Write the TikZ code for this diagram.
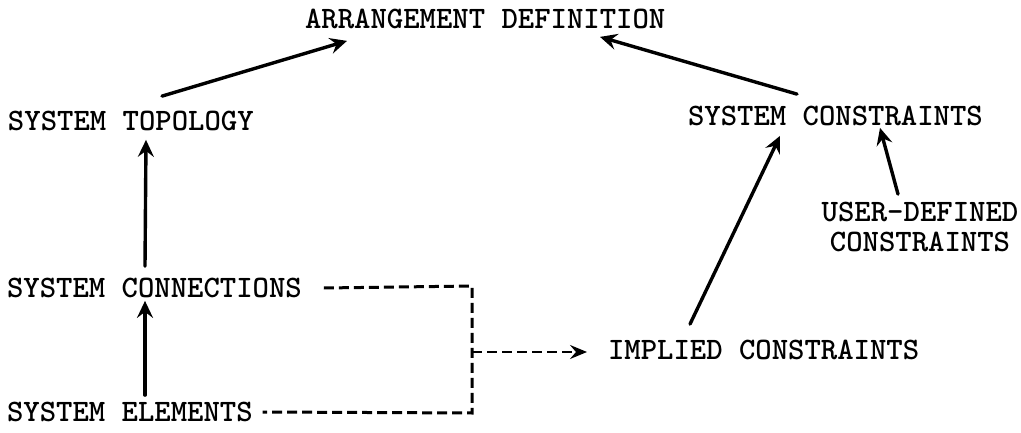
\documentclass[tikz,border=0pt]{standalone}
\usepackage{fontspec}
\usetikzlibrary{arrows.meta}
\begin{document}
\begin{tikzpicture}[x=1pt,y=1pt,
  lbl/.style={inner sep=0pt, outer sep=0pt, anchor=west, font=\ttfamily\bfseries\fontsize{31.2}{30}\selectfont},
  conn/.style={line width=3.4pt, line cap=round, -{Stealth[length=17pt,width=16pt,inset=6pt]}},
  dsh/.style={line width=3pt, dash pattern=on 10pt off 5pt}]
\useasboundingbox (0,0) rectangle (1021,-433);
\node[lbl] (arr) at (305,-19) {ARRANGEMENT DEFINITION};
\node[lbl] (topo) at (8,-121) {SYSTEM TOPOLOGY};
\node[lbl] (con) at (7,-288) {SYSTEM CONNECTIONS};
\node[lbl] (elem) at (7,-412) {SYSTEM ELEMENTS};
\node[lbl] (sc) at (688,-116) {SYSTEM CONSTRAINTS};
\node[lbl, anchor=center, align=center] (user) at (920,-227) {USER-DEFINED\\CONSTRAINTS};
\node[lbl] (impl) at (608,-350) {IMPLIED CONSTRAINTS};
\coordinate (c1) at (472,-286);
\coordinate (c2) at (472,-413);
\coordinate (c3) at (472,-352);
\draw[conn] ([xshift=154pt,yshift=15pt]topo.north west) -- ([xshift=42pt,yshift=-12pt]arr.south west);
\draw[conn] ([xshift=109pt,yshift=12pt]sc.north west) -- ([xshift=295pt,yshift=-8pt]arr.south west);
\draw[conn] ([xshift=138pt,yshift=12pt]con.north west) -- ([xshift=138pt,yshift=-9pt]topo.south west);
\draw[conn] ([xshift=138pt,yshift=7pt]elem.north west) -- ([xshift=138pt,yshift=-3pt]con.south west);
\draw[conn] ([xshift=-22pt,yshift=8pt]user.north) -- ([xshift=192pt,yshift=-2pt]sc.south west);
\draw[conn] ([xshift=82pt,yshift=16pt]impl.north west) -- ([xshift=92pt,yshift=-10pt]sc.south west);
\draw[dsh] ([xshift=22pt]con.east) -- (c1) -- (c2) -- ([xshift=10pt]elem.east);
\draw[dsh, line width=2.4pt, -{Stealth[length=17pt,width=14pt,inset=6pt]}] (c3) -- ([xshift=-21pt,yshift=-2pt]impl.west);
\end{tikzpicture}
\end{document}
